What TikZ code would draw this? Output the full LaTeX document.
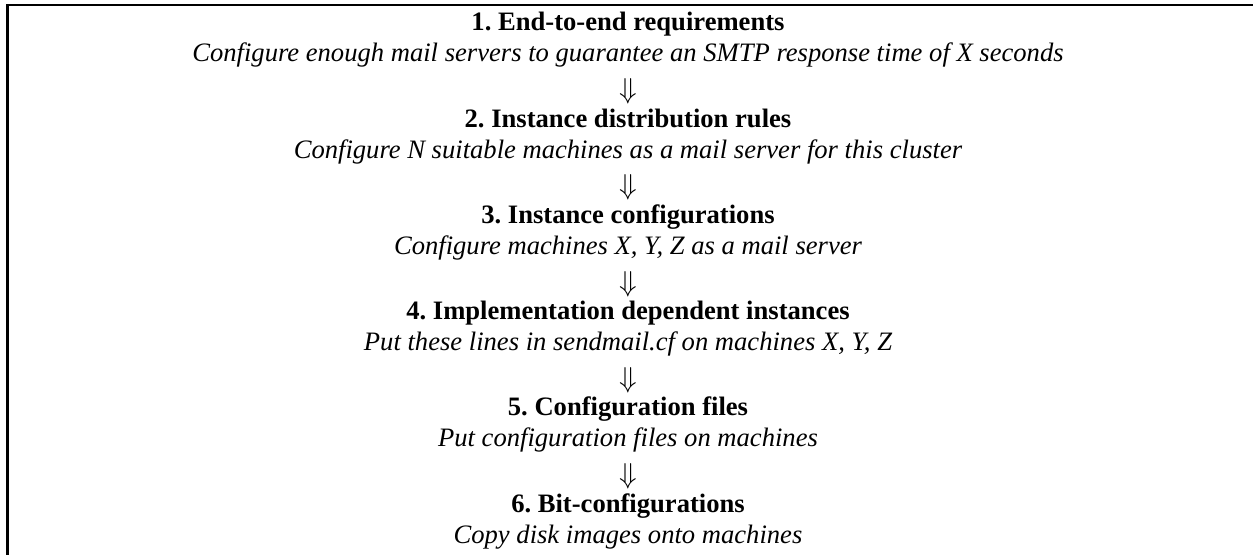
\documentclass[tikz,border=0pt]{standalone}
\usepackage{fontspec}
\setmainfont{Liberation Serif}
\frenchspacing
\begin{document}
\begin{tikzpicture}[x=0.5pt,y=-0.5pt,
  title/.style={font=\fontsize{13.3}{15}\selectfont\bfseries, inner sep=0pt, anchor=base},
  desc/.style={font=\fontsize{13.3}{15}\selectfont\itshape, inner sep=0pt, anchor=base},
  arr/.style={font=\fontsize{13.5}{15}\selectfont, inner sep=0pt, anchor=center}]
\useasboundingbox (0,0) rectangle (1253,555);
\draw[line width=1.5pt] (7.5,555) -- (7.5,5);
\draw[line width=1pt] (6,5) -- (1253,5);
\def\cx{628}
\node[title] (t1) at (\cx,31) {1. End-to-end requirements};
\node[desc] (d1) at (\cx,62) {Configure enough mail servers to guarantee an SMTP response time of X seconds};
\node[arr] (a1) at (\cx,91.5) {$\Downarrow$};
\node[title] (t2) at (\cx,127.25) {2. Instance distribution rules};
\node[desc] (d2) at (\cx,158.25) {Configure N suitable machines as a mail server for this cluster};
\node[arr] (a2) at (\cx,187.75) {$\Downarrow$};
\node[title] (t3) at (\cx,223.5) {3. Instance configurations};
\node[desc] (d3) at (\cx,254.5) {Configure machines X, Y, Z as a mail server};
\node[arr] (a3) at (\cx,284) {$\Downarrow$};
\node[title] (t4) at (\cx,319.75) {4. Implementation dependent instances};
\node[desc] (d4) at (\cx,350.75) {Put these lines in sendmail.cf on machines X, Y, Z};
\node[arr] (a4) at (\cx,380.25) {$\Downarrow$};
\node[title] (t5) at (\cx,416) {5. Configuration files};
\node[desc] (d5) at (\cx,447) {Put configuration files on machines};
\node[arr] (a5) at (\cx,476.5) {$\Downarrow$};
\node[title] (t6) at (\cx,512.25) {6. Bit-configurations};
\node[desc] (d6) at (\cx,543.25) {Copy disk images onto machines};
\end{tikzpicture}
\end{document}
